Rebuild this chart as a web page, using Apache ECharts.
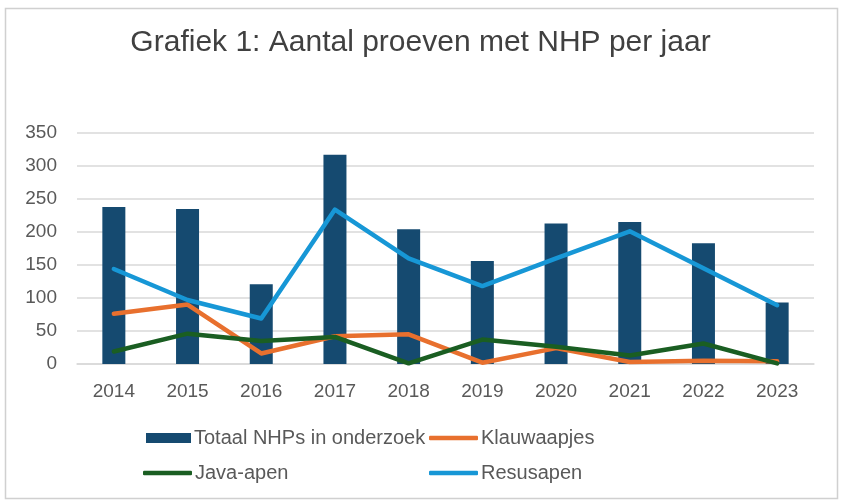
<!DOCTYPE html>
<html>
<head>
<meta charset="utf-8">
<script src="https://cdn.jsdelivr.net/npm/echarts@6/dist/echarts.min.js"></script>
<style>
  html, body { margin: 0; padding: 0; background: #fff; }
  #chart { width: 841px; height: 501px; }
</style>
</head>
<body>
<div id="chart"></div>
<script>
'use strict';

var years = ['2014', '2015', '2016', '2017', '2018', '2019', '2020', '2021', '2022', '2023'];
var totaal = [238, 235, 121, 317, 204, 156, 213, 215, 183, 93];
var klauwaapjes = [76, 90, 16, 42, 45, 2, 24, 3, 5, 4];
var javaApen = [19, 46, 35, 41, 1, 37, 26, 13, 31, 1];
var resusapen = [144, 97, 69, 234, 160, 118, 160, 201, 145, 89];
var yTicks = [0, 50, 100, 150, 200, 250, 300, 350];

var textColor = '#595959';
var fontFam = '"Liberation Sans", Arial, sans-serif';
var barColor = '#154a70';

function lineSeries(name, data, color) {
    return {
        name: name,
        type: 'line',
        data: data,
        symbol: 'none',
        lineStyle: { color: color, width: 4.5, cap: 'round', join: 'round' },
        itemStyle: { color: color },
        z: 3
    };
}

// one legend per item so they sit in the two-column grid of the original
function legendAt(name, left, top, isBar) {
    var lg = {
        data: [{ name: name, icon: isBar ? 'rect' : 'roundRect' }],
        left: left,
        top: top,
        itemWidth: isBar ? 45 : 49,
        itemHeight: isBar ? 10 : 4.5,
        itemGap: 0,
        padding: 0,
        textStyle: { color: textColor, fontSize: 20, fontFamily: fontFam, padding: [0, 0, 0, -2] }
    };
    if (!isBar) {
        lg.itemStyle = { borderRadius: 2 };
    }
    return lg;
}

var chart = echarts.init(document.getElementById('chart'), null, { renderer: 'canvas' });

var option = {
    backgroundColor: '#fff',
    animation: false,
    title: {
        text: 'Grafiek 1: Aantal proeven met NHP per jaar',
        left: 'center',
        top: 23,
        textStyle: { color: '#404040', fontSize: 30, fontWeight: 'normal', fontFamily: fontFam }
    },
    graphic: [{
        type: 'rect',
        shape: { x: 5.5, y: 8.5, width: 832, height: 490 },
        style: { fill: null, stroke: '#d0d0d0', lineWidth: 1.5 },
        silent: true
    }],
    legend: [
        legendAt('Totaal NHPs in onderzoek', 146, 428, true),
        legendAt('Klauwaapjes', 429, 428),
        legendAt('Java-apen', 143, 463),
        legendAt('Resusapen', 429, 463)
    ],
    grid: { left: 77, right: 27, top: 133, bottom: 137, containLabel: false },
    xAxis: {
        type: 'category',
        data: years,
        axisLine: { show: true, lineStyle: { color: '#d9d9d9', width: 1.5 } },
        axisTick: { show: false },
        axisLabel: { color: textColor, fontSize: 19, fontFamily: fontFam, margin: 18 }
    },
    yAxis: {
        type: 'value',
        min: yTicks[0],
        max: yTicks[yTicks.length - 1],
        interval: 50,
        axisLine: { show: false },
        axisTick: { show: false },
        axisLabel: { color: textColor, fontSize: 19, fontFamily: fontFam, margin: 20 },
        splitLine: { lineStyle: { color: '#d9d9d9', width: 1.5 } }
    },
    series: [
        {
            name: 'Totaal NHPs in onderzoek',
            type: 'bar',
            data: totaal,
            barWidth: 23,
            itemStyle: { color: barColor },
            z: 2
        },
        lineSeries('Klauwaapjes', klauwaapjes, '#e8702e'),
        lineSeries('Java-apen', javaApen, '#1a5e22'),
        lineSeries('Resusapen', resusapen, '#1797d6')
    ]
};

chart.setOption(option);
</script>
</body>
</html>
